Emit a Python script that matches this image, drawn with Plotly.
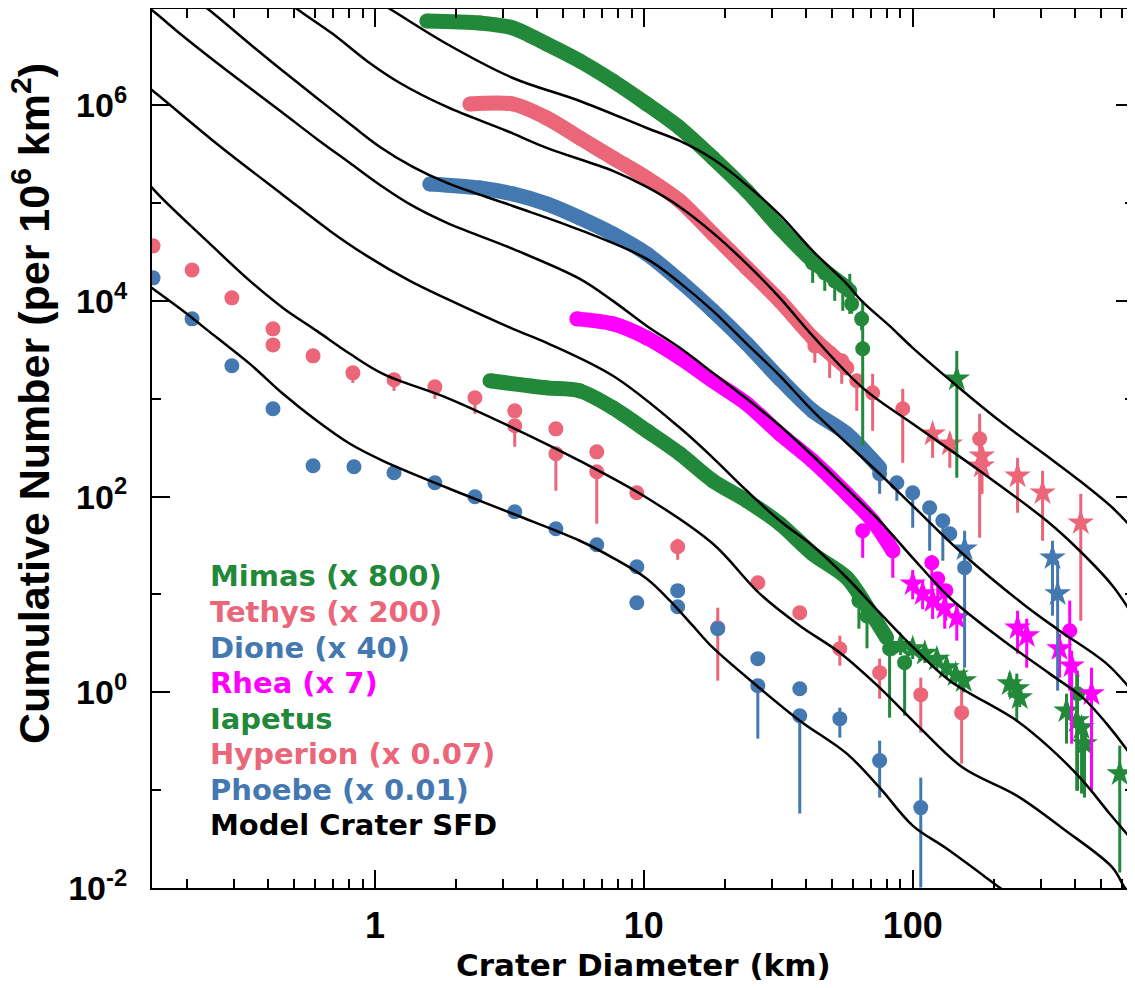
import numpy as np
import plotly.graph_objects as go

GREEN = "#22893A"
PINK = "#EA6678"
BLUE = "#4478B0"
MAGENTA = "#FF00FF"

# ---------------- data (log10 of crater diameter in km, log10 of cumulative number) -------------
# Mimas (x 800) dense cumulative SFD
mimas_log_d = [0.193, 0.390, 0.513, 0.639, 0.762, 0.885, 1.011, 1.134, 1.257, 1.383, 1.506, 1.628, 1.755]
mimas_log_n = [6.861, 6.841, 6.790, 6.626, 6.453, 6.248, 6.013, 5.768, 5.462, 5.125, 4.747, 4.410, 4.134]
mimas_tail_log_d = [1.628, 1.673, 1.710, 1.740, 1.766, 1.773, 1.810, 1.814]
mimas_tail_log_n = [4.389, 4.287, 4.205, 4.154, 4.103, 3.970, 3.817, 3.511]
mimas_tail_lo = [4.185, 4.103, 4.001, 3.899, 3.868, 3.870, 3.700, 2.520]
mimas_tail_hi = [4.389, 4.287, 4.205, 4.154, 4.277, 4.050, 3.900, 4.001]
mimas_star_log_d = [2.164]
mimas_star_log_n = [3.204]
mimas_star_lo = [2.193]
mimas_star_hi = [3.490]

# Tethys (x 200)
tethys_log_d = [0.353, 0.513, 0.639, 0.762, 0.885, 1.011, 1.134, 1.257, 1.383, 1.506, 1.628, 1.703, 1.755]
tethys_log_n = [6.013, 6.013, 5.870, 5.666, 5.462, 5.257, 5.022, 4.685, 4.338, 4.001, 3.623, 3.439, 3.316]
tethys_tail_log_d = [1.636, 1.691, 1.736, 1.792, 1.851, 1.963, 2.249]
tethys_tail_log_n = [3.541, 3.469, 3.388, 3.184, 3.061, 2.898, 2.591]
tethys_tail_lo = [3.367, 3.214, 3.153, 2.877, 2.673, 2.346, 1.580]
tethys_tail_hi = [3.541, 3.469, 3.388, 3.214, 3.255, 3.102, 2.847]
tethys_star_log_d = [2.074, 2.138, 2.257, 2.257, 2.390, 2.483, 2.625]
tethys_star_log_n = [2.642, 2.540, 2.418, 2.315, 2.213, 2.040, 1.733]
tethys_star_lo = [2.397, 2.295, 2.029, 2.029, 1.835, 1.549, 0.732]
tethys_star_hi = [2.704, 2.642, 2.469, 2.469, 2.397, 2.264, 2.029]

# Dione (x 40)
dione_log_d = [0.204, 0.390, 0.513, 0.639, 0.762, 0.885, 1.011, 1.134, 1.257, 1.383, 1.506, 1.628, 1.755, 1.877]
dione_log_n = [5.196, 5.155, 5.094, 4.992, 4.849, 4.685, 4.481, 4.205, 3.899, 3.562, 3.204, 2.877, 2.642, 2.295]
dione_tail_log_d = [1.877, 1.941, 2.000, 2.063, 2.112, 2.138, 2.193]
dione_tail_log_n = [2.234, 2.142, 2.040, 1.886, 1.753, 1.620, 1.273]
dione_tail_lo = [2.029, 1.958, 1.682, 1.447, 1.345, 1.620, 0.252]
dione_tail_hi = [2.336, 2.142, 2.091, 1.920, 1.784, 1.620, 1.498]
dione_star_log_d = [2.193, 2.520, 2.539]
dione_star_log_n = [1.467, 1.375, 1.008]
dione_star_lo = [1.273, 0.783, 0.017]
dione_star_hi = [1.651, 1.549, 1.345]

# Rhea (x 7)
rhea_log_d = [0.751, 0.885, 1.011, 1.134, 1.257, 1.383, 1.506, 1.628, 1.755, 1.851, 1.926]
rhea_log_n = [3.817, 3.766, 3.623, 3.419, 3.184, 2.949, 2.642, 2.366, 2.029, 1.753, 1.447]
rhea_tail_log_d = [1.814, 1.926, 2.071, 2.093, 2.123, 2.584]
rhea_tail_log_n = [1.651, 1.447, 1.324, 1.161, 1.039, 0.630]
rhea_tail_lo = [1.375, 1.171, 1.039, 0.834, 0.732, 0.017]
rhea_tail_hi = [1.651, 1.447, 1.400, 1.161, 1.039, 0.937]
rhea_star_log_d = [2.000, 2.037, 2.074, 2.119, 2.164, 2.390, 2.424, 2.546, 2.591, 2.665]
rhea_star_log_n = [1.110, 1.008, 0.937, 0.865, 0.763, 0.660, 0.579, 0.446, 0.272, -0.014]
rhea_star_lo = [0.950, 0.850, 0.750, 0.650, 0.528, 0.395, 0.252, 0.150, -0.525, -1.005]
rhea_star_hi = [1.250, 1.150, 1.050, 1.000, 0.900, 0.834, 0.752, 0.600, 0.426, 0.252]

# Iapetus (x 1)
iapetus_log_d = [0.428, 0.639, 0.762, 0.885, 1.011, 1.134, 1.257, 1.383, 1.506, 1.628, 1.755, 1.851, 1.903]
iapetus_log_n = [3.184, 3.112, 3.081, 2.908, 2.673, 2.438, 2.162, 1.958, 1.723, 1.416, 1.171, 0.783, 0.558]
iapetus_tail_log_d = [1.800, 1.830, 1.914, 1.970, 2.613]
iapetus_tail_log_n = [0.937, 0.780, 0.446, 0.303, -0.014]
iapetus_tail_lo = [0.650, 0.450, -0.259, -0.239, -1.005]
iapetus_tail_hi = [0.937, 0.780, 0.446, 0.303, 0.220]
iapetus_star_log_d = [1.955, 2.000, 2.045, 2.090, 2.126, 2.160, 2.190,
                      2.361, 2.387, 2.398, 2.572, 2.610, 2.628, 2.639, 2.770]
iapetus_star_log_n = [0.480, 0.446, 0.400, 0.340, 0.252, 0.180, 0.119,
                      0.089, 0.037, -0.054, -0.188, -0.290, -0.361, -0.524, -0.831]
iapetus_star_lo = [0.380, 0.340, 0.300, 0.230, 0.150, 0.070, 0.000,
                   -0.050, -0.290, -0.150, -0.524, -1.005, -1.035, -1.076, -1.842]
iapetus_star_hi = [0.560, 0.520, 0.480, 0.420, 0.340, 0.260, 0.200,
                   0.200, 0.191, -0.054, -0.014, 0.191, -0.269, -0.400, -0.545]

# Hyperion (x 0.07)
hyperion_log_d = [-0.825, -0.680, -0.532, -0.379, -0.379, -0.230, -0.082, 0.071, 0.223, 0.372,
                  0.520, 0.520, 0.673, 0.673, 0.825, 0.825, 0.974, 1.126, 1.275, 1.424,
                  1.580, 1.729, 1.877, 2.030, 2.182]
hyperion_log_n = [4.563, 4.317, 4.032, 3.715, 3.551, 3.439, 3.265, 3.194, 3.122, 3.010,
                  2.877, 2.724, 2.693, 2.438, 2.458, 2.254, 2.040, 1.488, 0.660, 1.120,
                  0.814, 0.446, 0.201, -0.024, -0.208]
hyperion_lo = [4.563, 4.317, 4.032, 3.715, 3.551, 3.439, 3.163, 3.081, 3.000, 2.847,
               2.877, 2.510, 2.693, 2.060, 2.458, 1.723, 2.040, 1.355, 0.119, 1.120,
               0.814, 0.272, -0.065, -0.412, -0.729]
hyperion_hi = [4.563, 4.317, 4.032, 3.715, 3.551, 3.439, 3.265, 3.194, 3.122, 3.010,
               2.877, 2.724, 2.693, 2.438, 2.458, 2.254, 2.040, 1.569, 0.865, 1.120,
               0.814, 0.579, 0.344, 0.150, 0.048]

# Phoebe (x 0.01)
phoebe_log_d = [-0.825, -0.680, -0.532, -0.379, -0.230, -0.078, 0.071, 0.223, 0.372, 0.520,
                0.673, 0.825, 0.974, 0.974, 1.126, 1.126, 1.275, 1.424, 1.424, 1.580,
                1.580, 1.729, 1.877, 2.030]
phoebe_log_n = [4.236, 3.817, 3.337, 2.898, 2.315, 2.305, 2.244, 2.142, 1.999, 1.845,
                1.672, 1.508, 1.284, 0.916, 1.039, 0.875, 0.650, 0.344, 0.068, 0.037,
                -0.239, -0.269, -0.698, -1.178]
phoebe_lo = [4.236, 3.817, 3.337, 2.898, 2.315, 2.305, 2.244, 2.142, 1.999, 1.845,
             1.672, 1.508, 1.284, 0.916, 1.039, 0.875, 0.650, 0.344, -0.473, 0.037,
             -1.239, -0.463, -1.076, -1.995]
phoebe_hi = [4.236, 3.817, 3.337, 2.898, 2.315, 2.305, 2.244, 2.142, 1.999, 1.845,
             1.672, 1.508, 1.284, 0.916, 1.039, 0.875, 0.650, 0.344, 0.068, 0.037,
             -0.239, -0.157, -0.494, -0.872]

# Model crater SFD curves (one per satellite)
model_curves = {
    "Mimas": (
        [-0.056, 0.056, 0.268, 0.513, 0.762, 1.011, 1.134, 1.257, 1.383, 1.506, 1.628, 1.755, 1.810,
         1.914, 2.000, 2.164, 2.323, 2.498, 2.621, 2.743, 2.825, 2.881],
        [7.168, 6.984, 6.626, 6.279, 6.044, 5.768, 5.635, 5.451, 5.186, 4.879, 4.512, 4.175, 4.001,
         3.745, 3.521, 3.133, 2.775, 2.418, 2.162, 1.886, 1.651, 1.467]),
    "Tethys": (
        [-0.353, -0.290, -0.156, -0.030, 0.093, 0.268, 0.491, 0.639, 0.885, 1.011, 1.134, 1.257, 1.383,
         1.506, 1.628, 1.814, 2.000, 2.249, 2.498, 2.621, 2.743, 2.825, 2.881],
        [7.117, 6.984, 6.728, 6.453, 6.228, 5.983, 5.737, 5.564, 5.329, 5.165, 4.961, 4.696, 4.379,
         4.032, 3.643, 3.112, 2.744, 2.264, 1.753, 1.447, 1.090, 0.763, 0.528]),
    "Dione": (
        [-0.688, -0.621, -0.465, -0.342, -0.216, -0.093, 0.019, 0.141, 0.268, 0.513, 0.762, 1.011,
         1.134, 1.257, 1.383, 1.506, 1.628, 1.877, 2.000, 2.186, 2.409, 2.546, 2.721, 2.825, 2.881],
        [7.117, 6.984, 6.626, 6.350, 6.075, 5.809, 5.574, 5.370, 5.206, 4.971, 4.726, 4.430,
         4.185, 3.899, 3.562, 3.235, 2.877, 2.234, 1.907, 1.416, 0.906, 0.630, 0.293, -0.014, -0.208]),
    "Rhea": (
        [-0.874, -0.825, -0.714, -0.587, -0.465, -0.342, -0.216, -0.093, 0.019, 0.141, 0.268, 0.513,
         0.762, 0.885, 1.011, 1.134, 1.257, 1.383, 1.506, 1.628, 1.755, 1.877, 2.000, 2.138, 2.323,
         2.509, 2.632, 2.721, 2.825, 2.881],
        [7.065, 6.963, 6.708, 6.432, 6.177, 5.921, 5.656, 5.410, 5.186, 4.971, 4.798, 4.532,
         4.226, 4.001, 3.745, 3.521, 3.265, 3.000, 2.724, 2.418, 2.081, 1.753, 1.375, 0.967, 0.558,
         0.191, -0.054, -0.320, -0.698, -0.953]),
    "Iapetus": (
        [-0.874, -0.825, -0.587, -0.342, -0.167, -0.030, 0.130, 0.268, 0.513, 0.639, 0.885, 1.134,
         1.257, 1.383, 1.506, 1.628, 1.755, 1.877, 2.007, 2.138, 2.387, 2.509, 2.632, 2.732, 2.825,
         2.881],
        [6.248, 6.146, 5.605, 5.084, 4.716, 4.461, 4.205, 4.021, 3.715, 3.572, 3.235, 2.704,
         2.397, 2.060, 1.753, 1.498, 1.171, 0.814, 0.446, 0.119, -0.290, -0.565, -0.902, -1.239,
         -1.545, -1.770]),
    "Hyperion": (
        [-0.874, -0.825, -0.625, -0.465, -0.342, -0.216, -0.093, 0.030, 0.268, 0.513, 0.762, 1.011,
         1.257, 1.431, 1.580, 1.729, 1.877, 2.026, 2.186, 2.387, 2.558, 2.743, 2.788, 2.825],
        [5.331, 5.145, 4.614, 4.205, 3.929, 3.694, 3.460, 3.255, 3.010, 2.704, 2.366, 1.989,
         1.518, 1.008, 0.681, 0.405, 0.048, -0.361, -0.769, -1.056, -1.392, -1.791, -1.995, -2.128]),
    "Phoebe": (
        [-0.874, -0.825, -0.714, -0.587, -0.465, -0.342, -0.216, -0.093, 0.030, 0.268, 0.513, 0.762,
         0.885, 1.011, 1.097, 1.182, 1.257, 1.420, 1.580, 1.755, 1.877, 2.000, 2.126, 2.323, 2.379],
        [4.226, 4.124, 3.899, 3.623, 3.357, 3.051, 2.775, 2.540, 2.366, 2.091, 1.825, 1.549,
         1.375, 1.161, 0.937, 0.681, 0.456, 0.068, -0.290, -0.627, -0.974, -1.362, -1.597, -1.995,
         -2.108]),
}

legend_labels = ["Mimas (x 800)", "Tethys (x 200)", "Dione (x 40)", "Rhea (x 7)", "Iapetus",
                 "Hyperion (x 0.07)", "Phoebe (x 0.01)", "Model Crater SFD"]
legend_colors = [GREEN, PINK, BLUE, MAGENTA, GREEN, PINK, BLUE, "black"]

y_tick_exponents = [-2, 0, 2, 4, 6]
y_minor_exponents = [-1, 1, 3, 5]
x_tick_values = [1, 10, 100]
x_minor_values = [0.2, 0.3, 0.4, 0.5, 0.6, 0.7, 0.8, 0.9,
                  2, 3, 4, 5, 6, 7, 8, 9,
                  20, 30, 40, 50, 60, 70, 80, 90,
                  200, 300, 400, 500, 600]

# ---------------- figure ----------------
def p10(a):
    return 10 ** np.asarray(a, dtype=float)


fig = go.Figure()


def band(ld, ln, color):
    fig.add_trace(go.Scatter(x=p10(ld), y=p10(ln), mode="lines+markers",
                             line=dict(color=color, width=15, shape="spline", smoothing=0.8),
                             marker=dict(color=color, size=15),
                             hoverinfo="skip", showlegend=False))


def points(ld, ln, lo, hi, color, symbol="circle", size=15):
    n = p10(ln)
    up = np.clip(p10(hi) - n, 0, None)
    dn = np.clip(n - p10(lo), 0, None)
    fig.add_trace(go.Scatter(x=p10(ld), y=n, mode="markers",
                             marker=dict(color=color, size=size, symbol=symbol,
                                         line=dict(width=0)),
                             error_y=dict(type="data", symmetric=False, array=up,
                                          arrayminus=dn, color=color, thickness=3, width=0),
                             hoverinfo="skip", showlegend=False))


# Hyperion & Phoebe (behind)
points(hyperion_log_d, hyperion_log_n, hyperion_lo, hyperion_hi, PINK)
points(phoebe_log_d, phoebe_log_n, phoebe_lo, phoebe_hi, BLUE)

# Iapetus
points(iapetus_tail_log_d, iapetus_tail_log_n, iapetus_tail_lo, iapetus_tail_hi, GREEN)
band(iapetus_log_d, iapetus_log_n, GREEN)
points(iapetus_star_log_d, iapetus_star_log_n, iapetus_star_lo, iapetus_star_hi, GREEN, "star", 20)

# Rhea
points(rhea_tail_log_d, rhea_tail_log_n, rhea_tail_lo, rhea_tail_hi, MAGENTA)
band(rhea_log_d, rhea_log_n, MAGENTA)
points(rhea_star_log_d, rhea_star_log_n, rhea_star_lo, rhea_star_hi, MAGENTA, "star", 20)

# Dione
points(dione_tail_log_d, dione_tail_log_n, dione_tail_lo, dione_tail_hi, BLUE)
band(dione_log_d, dione_log_n, BLUE)
points(dione_star_log_d, dione_star_log_n, dione_star_lo, dione_star_hi, BLUE, "star", 20)

# Tethys
points(tethys_tail_log_d, tethys_tail_log_n, tethys_tail_lo, tethys_tail_hi, PINK)
band(tethys_log_d, tethys_log_n, PINK)
points(tethys_star_log_d, tethys_star_log_n, tethys_star_lo, tethys_star_hi, PINK, "star", 20)

# Mimas
points(mimas_tail_log_d, mimas_tail_log_n, mimas_tail_lo, mimas_tail_hi, GREEN)
band(mimas_log_d, mimas_log_n, GREEN)
points(mimas_star_log_d, mimas_star_log_n, mimas_star_lo, mimas_star_hi, GREEN, "star", 20)

# model curves on top
for name, (ld, ln) in model_curves.items():
    fig.add_trace(go.Scatter(x=p10(ld), y=p10(ln), mode="lines",
                             line=dict(color="black", width=2.5, shape="spline", smoothing=1.0),
                             hoverinfo="skip", showlegend=False))

# ---- layout geometry (page body has an 8px margin, so the figure sits at (8, 8)) ----
PLOT_L, PLOT_T, PLOT_W, PLOT_H = 152, 9, 982, 879   # plot area in page pixels


def px_x(x):
    return (x - PLOT_L) / PLOT_W


def px_y(y):
    return (PLOT_T + PLOT_H - y) / PLOT_H


legend_y_px = [576, 612, 648, 683, 719, 754, 790, 825]
for lab, col, ypx in zip(legend_labels, legend_colors, legend_y_px):
    fig.add_annotation(text=lab, x=px_x(208), y=px_y(ypx),
                       xref="paper", yref="paper", xanchor="left", yanchor="middle",
                       showarrow=False,
                       font=dict(family="DejaVu Sans", size=29, color=col, weight="bold"))

fig.add_annotation(text="Crater Diameter (km)", x=0.5, y=px_y(965),
                   xref="paper", yref="paper", xanchor="center", yanchor="middle",
                   showarrow=False,
                   font=dict(family="DejaVu Sans", size=31, color="black", weight="bold"))
fig.add_annotation(text="Cumulative Number (per 10<sup>6</sup> km<sup>2</sup>)",
                   x=px_x(31), y=px_y(404), textangle=-90,
                   xref="paper", yref="paper", xanchor="center", yanchor="middle",
                   showarrow=False,
                   font=dict(family="Liberation Sans", size=43, color="black", weight="bold"))

axis_common = dict(showline=True, linecolor="black", linewidth=2, mirror="ticks",
                   ticks="inside", ticklen=18, tickwidth=2, tickcolor="black",
                   showgrid=False, zeroline=False, automargin=False)

fig.update_xaxes(type="log", range=[-0.829, 2.823],
                 tickmode="array", tickvals=x_tick_values,
                 ticktext=[str(v) for v in x_tick_values],
                 tickfont=dict(family="Liberation Sans", size=36, color="black", weight="bold"),
                 ticklabelstandoff=5,
                 minor=dict(ticks="inside", ticklen=9, tickwidth=2, tickcolor="black",
                            tickmode="array", tickvals=x_minor_values, showgrid=False),
                 **axis_common)
fig.update_yaxes(type="log", range=[-2, 6.984],
                 tickmode="array", tickvals=[10.0 ** e for e in y_tick_exponents],
                 ticktext=["10<sup>%d</sup>" % e for e in y_tick_exponents],
                 tickfont=dict(family="Liberation Sans", size=34, color="black", weight="bold"),
                 ticklabelstandoff=16,
                 minor=dict(ticks="inside", ticklen=9, tickwidth=2, tickcolor="black",
                            tickmode="array", tickvals=[10.0 ** e for e in y_minor_exponents],
                            showgrid=False),
                 **axis_common)

fig.update_layout(width=1135, height=988,
                  margin=dict(l=PLOT_L - 8, r=1135 - (PLOT_L - 8) - PLOT_W,
                              t=PLOT_T - 8, b=988 - (PLOT_T - 8) - PLOT_H, autoexpand=False),
                  paper_bgcolor="white", plot_bgcolor="white",
                  showlegend=False)

fig.write_html("out.html")
